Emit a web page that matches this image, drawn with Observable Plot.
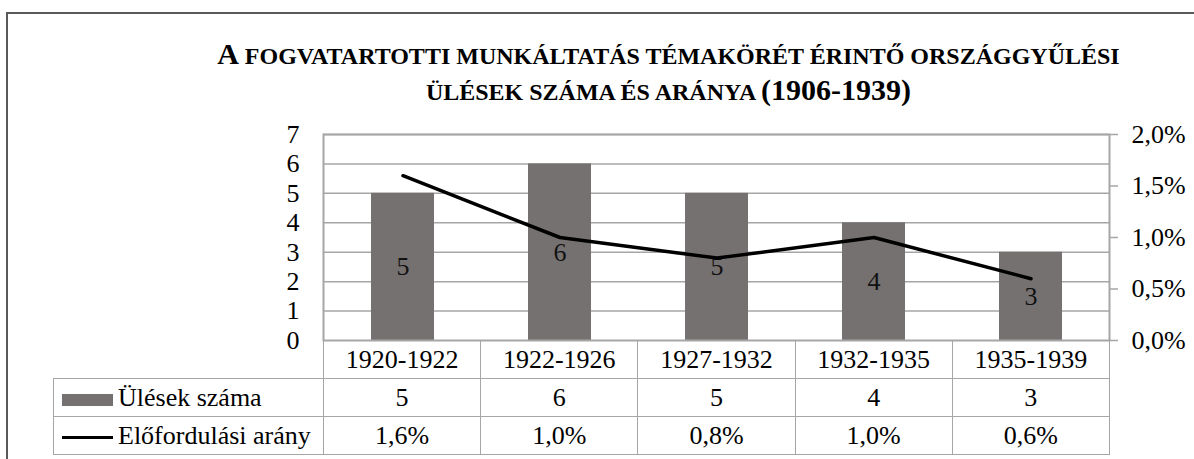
<!DOCTYPE html>
<html><head><meta charset="utf-8">
<script src="https://cdn.jsdelivr.net/npm/d3@7"></script>
<script src="https://cdn.jsdelivr.net/npm/@observablehq/plot@0.6"></script>
<style>
html,body{margin:0;padding:0;background:#fff;}
#wrap{position:relative;width:1194px;height:459px;overflow:hidden;font-family:'Liberation Serif','Times New Roman',serif;color:#000;}
#frame{position:absolute;left:6px;top:12px;width:1400px;height:700px;border-left:2px solid #595959;border-top:2px solid #595959;}
#title{position:absolute;left:0;top:37px;width:1337px;text-align:center;font-weight:bold;font-size:30px;line-height:34px;white-space:nowrap;}
#title .sm{font-size:24px;text-transform:uppercase;}
#chart{position:absolute;left:0;top:0;}
#tbl{position:absolute;left:53px;top:340px;border-collapse:collapse;table-layout:fixed;font-size:26px;}
#tbl td{border:1.5px solid #a6a6a6;text-align:center;padding:0;height:37px;line-height:30px;white-space:nowrap;}
#tbl td.lab{text-align:left;padding-left:8px;}
.sw{display:inline-block;width:51px;vertical-align:middle;margin-right:5px;}
</style></head>
<body>
<div id="wrap">
  <div id="frame"></div>
  <div id="title"></div>
  <div id="chart"></div>
  <table id="tbl"></table>
</div>
<script>
const titleLines = ["A fogvatartotti munkáltatás témakörét érintő országgyűlési", "ülések száma és aránya (1906-1939)"];
const categories = ["1920-1922", "1922-1926", "1927-1932", "1932-1935", "1935-1939"];
const sessions = [5, 6, 5, 4, 3];
const ratePct = [1.6, 1.0, 0.8, 1.0, 0.6];
const seriesNames = ["Ülések száma", "Előfordulási arány"];
const leftTicks = [0, 1, 2, 3, 4, 5, 6, 7];
const rightTicks = [0, 0.5, 1.0, 1.5, 2.0];

const leftMax = 7, rightMax = 2;
const k = leftMax / rightMax;
const barColor = "#767171";
const gridColor = "#a6a6a6";
const fontStack = "'Liberation Serif','Times New Roman',serif";
const fmtPct = v => v.toFixed(1).replace(".", ",") + "%";

// title with small caps (lowercase letters rendered as smaller capitals)
function smallCaps(line) {
  let out = "", cur = null, buf = "";
  const flush = () => { if (buf) out += `<span class="${cur}">${buf}</span>`; buf = ""; };
  for (const ch of line) {
    let cls = ch === " " ? cur : (ch !== ch.toUpperCase() ? "sm" : "big");
    if (cls === null) cls = "big";
    if (cls !== cur) { flush(); cur = cls; }
    buf += ch;
  }
  flush();
  return out;
}
document.getElementById("title").innerHTML = titleLines.map(smallCaps).join("<br>");

const data = categories.map((c, i) => ({cat: c, n: sessions[i], rate: ratePct[i]}));

const plot = Plot.plot({
  width: 1194,
  height: 459,
  marginTop: 134,
  marginBottom: 119,
  marginLeft: 323,
  marginRight: 85,
  style: {fontFamily: fontStack, fontSize: "26px", color: "#000", background: "transparent"},
  x: {domain: categories, padding: 0, axis: null},
  y: {domain: [0, leftMax], axis: null},
  marks: [
    Plot.ruleY(leftTicks.filter(t => t > 0), {stroke: gridColor, strokeWidth: 1.5}),
    Plot.barY(data, {x: "cat", y: "n", fill: barColor, insetLeft: 47, insetRight: 47}),
    Plot.frame({stroke: gridColor, strokeWidth: 2}),
    Plot.text(data, {x: "cat", y: d => d.n / 2, text: d => String(d.n), fill: "#111", fontSize: 26, fontFamily: fontStack}),
    Plot.line(data, {x: "cat", y: d => d.rate * k, stroke: "#000", strokeWidth: 3.5, strokeLinejoin: "round"}),
    Plot.axisY(leftTicks, {anchor: "left", label: null, tickSize: 0, tickPadding: 24, fontSize: 26, fontFamily: fontStack, fill: "#000", tickFormat: d => String(d)}),
    Plot.axisY(rightTicks.map(t => t * k), {anchor: "right", label: null, tickSize: 8, tickPadding: 14, stroke: gridColor, strokeWidth: 1.5, fill: "#000", fontSize: 26, fontFamily: fontStack, tickFormat: d => fmtPct(d / k)})
  ]
});
document.getElementById("chart").appendChild(plot);

// data table
const colW = 157.2;
const tbl = document.getElementById("tbl");
let html = `<colgroup><col style="width:270px">${categories.map(() => `<col style="width:${colW}px">`).join("")}</colgroup>`;
html += `<tr><td style="border-top:none;border-left:none;"></td>${categories.map(c => `<td>${c}</td>`).join("")}</tr>`;
html += `<tr><td class="lab"><span class="sw" style="height:12px;background:${barColor}"></span>${seriesNames[0]}</td>${sessions.map(v => `<td>${v}</td>`).join("")}</tr>`;
html += `<tr><td class="lab"><span class="sw" style="height:3.5px;background:#000"></span>${seriesNames[1]}</td>${ratePct.map(v => `<td>${fmtPct(v)}</td>`).join("")}</tr>`;
tbl.innerHTML = html;
</script>
</body></html>
